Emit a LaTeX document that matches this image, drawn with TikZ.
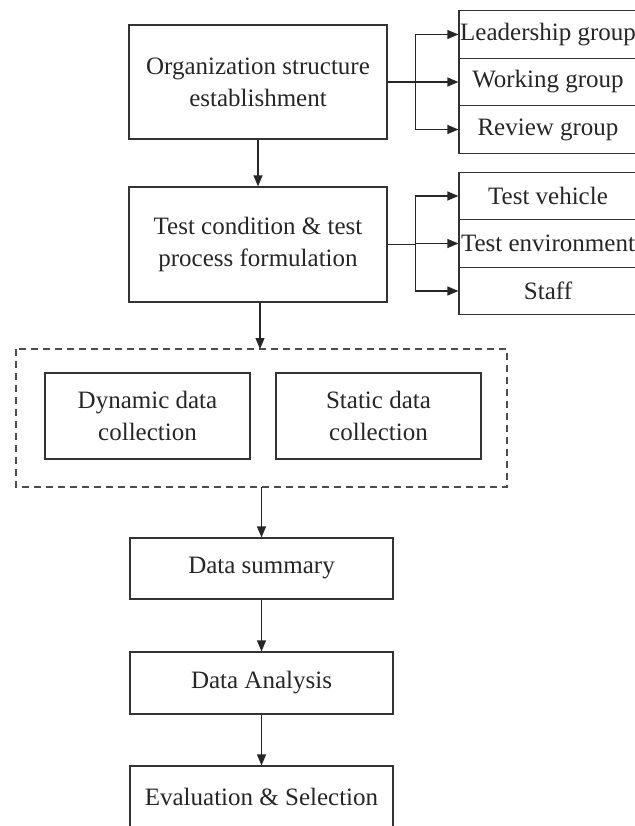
\documentclass[tikz,border=0pt]{standalone}
\usepackage{fontspec}
\setmainfont{Liberation Serif}
\usetikzlibrary{arrows.meta,calc}
\begin{document}
\begin{tikzpicture}[x=1pt,y=-1pt,>={Triangle[length=11pt,width=9pt]},
    font=\fontsize{25}{32}\selectfont,
    box/.style={draw=black!80,line width=1.2pt,align=center,inner sep=0pt,text=black!85},
    cell/.style={box,minimum width=178,minimum height=47.5},
    link/.style={->,line width=1.2pt,draw=black!85}]
    \useasboundingbox (0,0) rectangle (634,826);
    % main column
    \node[box,minimum width=258,minimum height=114] (org) at (258,82) {Organization structure\\establishment};
    \node[box,minimum width=258,minimum height=115] (test) at (258,244.5) {Test condition \& test\\process formulation};
    \draw[dash pattern=on 7pt off 5pt,draw=black!70,line width=1.2pt] (16,349) rectangle (507,487);
    \coordinate (grptop) at (260,349);
    \coordinate (grpbot) at (261.5,487);
    \node[box,minimum width=205,minimum height=86] (dyn) at (147.5,416) {Dynamic data\\collection};
    \node[box,minimum width=205,minimum height=86] (stat) at (378.5,416) {Static data\\collection};
    \node[box,minimum width=263,minimum height=61] (sum) at (261.5,568.5) {Data summary};
    \node[box,minimum width=263,minimum height=62] (ana) at (261.5,683) {Data Analysis};
    \node[box,minimum width=263,minimum height=62] (eva) at (261.5,797) {Evaluation \& Selection};
    % right-hand lists
    \node[cell] (lead) at (548,34.5) {Leadership group};
    \node[cell] (work) at (548,82) {Working group};
    \node[cell] (rev) at (548,129.5) {Review group};
    \node[cell] (veh) at (548,196) {Test vehicle};
    \node[cell] (env) at (548,243.5) {Test environment};
    \node[cell] (staff) at (548,291) {Staff};
    \draw[link] (org) -- (test);
    \draw[link] (test.south -| grptop) -- (grptop);
    \draw[link] (grpbot) -- (sum);
    \draw[link] (sum) -- (ana);
    \draw[link] (ana) -- (eva);
    % fork arrows
    \coordinate (fork1) at ($(org.east)+(28,0)$);
    \coordinate (fork2) at ($(test.east)+(28,0)$);
    \draw[link,-] (org.east) -- (fork1);
    \draw[link,-] (test.east) -- (fork2);
    \foreach \f/\n in {fork1/lead,fork1/work,fork1/rev,fork2/veh,fork2/env,fork2/staff}
        \draw[link] (\f) |- (\n.west);
\end{tikzpicture}
\end{document}
